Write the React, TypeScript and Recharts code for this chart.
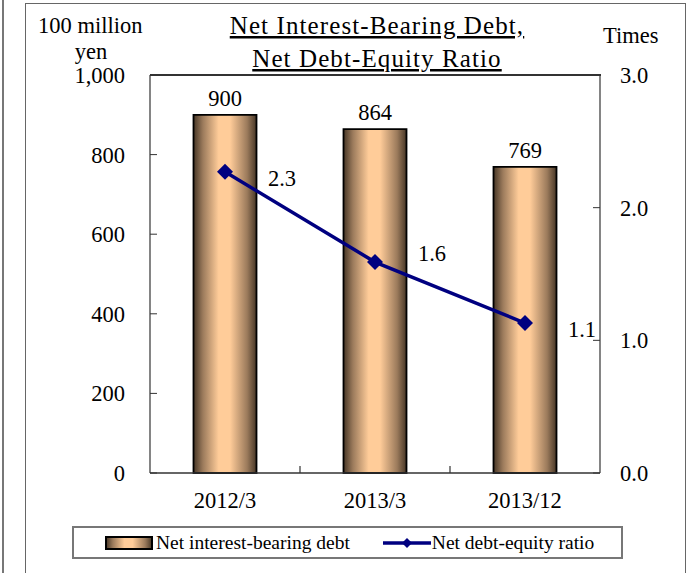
import React from 'react';
import { ComposedChart, Bar, Line, XAxis, YAxis, Legend, LabelList } from 'recharts';

const periods = ['2012/3', '2013/3', '2013/12'];
const netDebt = [900, 864, 769];
const deRatio = [2.27, 1.59, 1.13];
const leftTicks = [0, 200, 400, 600, 800, 1000];
const rightTicks = [0, 1, 2, 3];

const data = periods.map((period, i) => ({ period, debt: netDebt[i], ratio: deRatio[i] }));

const FONT = '"Liberation Serif", "Times New Roman", serif';
const NAVY = '#000080';
const AXIS = '#333';

const Diamond = ({ cx, cy, r = 8 }: any) => (
  <polygon points={`${cx},${cy - r} ${cx + r},${cy} ${cx},${cy + r} ${cx - r},${cy}`} fill={NAVY} />
);

const XTick = (props: any) => {
  const { x, y, payload, index } = props;
  const off = payload.offset ?? 0;
  return (
    <g>
      <text x={x} y={y + 35} textAnchor="middle" fontFamily={FONT} fontSize={22.5} fill="#000">
        {payload.value}
      </text>
      {index < periods.length - 1 && (
        <line x1={x + off} x2={x + off} y1={y} y2={y - 7} stroke={AXIS} strokeWidth={1.2} />
      )}
    </g>
  );
};

// line labels sit to the right of each point
const ratioLabelDy = [6, -9, 6];
const RatioLabel = (props: any) => {
  const { x, y, value, index } = props;
  return (
    <text x={x + 57} y={y + ratioLabelDy[index] + 8} textAnchor="middle" fontFamily={FONT} fontSize={22.5} fill="#000">
      {Number(value).toFixed(1)}
    </text>
  );
};

const LegendBox = () => (
  <div
    style={{
      boxSizing: 'border-box',
      height: 33,
      border: '2px solid #777',
      display: 'flex',
      alignItems: 'center',
      paddingLeft: 31,
      fontFamily: FONT,
      fontSize: 19.5,
      color: '#000',
      background: '#fff',
    }}
  >
    <svg width={48} height={14} style={{ display: 'block' }}>
      <rect x={1} y={1} width={46} height={12} fill="url(#barGrad)" stroke="#000" strokeWidth={2} />
    </svg>
    <span style={{ marginLeft: 3 }}>Net interest-bearing debt</span>
    <svg width={48} height={16} style={{ display: 'block', marginLeft: 33 }}>
      <line x1={0} x2={48} y1={8} y2={8} stroke={NAVY} strokeWidth={3.5} />
      <Diamond cx={24} cy={8} r={5} />
    </svg>
    <span style={{ marginLeft: 1 }}>Net debt-equity ratio</span>
  </div>
);

export default function App() {
  return (
    <div style={{ position: 'absolute', left: 0, top: 0, width: 690, height: 573, background: '#fff', overflow: 'hidden' }}>
      <div style={{ position: 'absolute', left: 2, top: 0, width: 1.5, height: 573, background: '#777' }} />
      <div
        style={{
          position: 'absolute',
          left: 25,
          top: 3,
          width: 659,
          height: 580,
          borderTop: '1.5px solid #666',
          borderLeft: '1.5px solid #666',
          borderRight: '1.5px solid #666',
        }}
      />
      {/* titles and unit captions, drawn under the chart */}
      <svg width={690} height={100} style={{ position: 'absolute', left: 0, top: 0 }}>
        <g fontFamily={FONT} fill="#000">
          <text x={38} y={33} fontSize={22.5}>100 million</text>
          <text x={91} y={59} fontSize={22.5} textAnchor="middle">yen</text>
          <text x={603} y={43} fontSize={22.5}>Times</text>
          <text x={377} y={34} fontSize={25} letterSpacing={1.1} textAnchor="middle" textDecoration="underline">
            Net Interest-Bearing Debt,
          </text>
          <text x={377} y={67} fontSize={25} letterSpacing={1.1} textAnchor="middle" textDecoration="underline">
            Net Debt-Equity Ratio
          </text>
        </g>
      </svg>
      {/* plot frame top edge */}
      <div style={{ position: 'absolute', left: 150, top: 74, width: 451, height: 1.5, background: AXIS }} />
      <ComposedChart
        width={690}
        height={573}
        data={data}
        margin={{ top: 74, right: 30, bottom: 14, left: 90 }}
        barCategoryGap="29%"
        style={{ position: 'absolute', left: 0, top: 0 }}
      >
        <defs>
          <linearGradient id="barGrad" x1="0" y1="0" x2="1" y2="0">
            <stop offset="0%" stopColor="#463626" />
            <stop offset="15%" stopColor="#9c7b5c" />
            <stop offset="40%" stopColor="#ffcc99" />
            <stop offset="58%" stopColor="#ffcc99" />
            <stop offset="85%" stopColor="#9c7b5c" />
            <stop offset="100%" stopColor="#463626" />
          </linearGradient>
        </defs>
        <XAxis
          dataKey="period"
          height={53}
          tickSize={0}
          tickMargin={0}
          tick={<XTick />}
          axisLine={{ stroke: AXIS, strokeWidth: 1.5 }}
          interval={0}
        />
        <XAxis
          xAxisId="top"
          dataKey="period"
          orientation="top"
          height={1}
          tick={false}
          tickLine={false}
          axisLine={{ stroke: AXIS, strokeWidth: 1.5 }}
        />
        <YAxis
          yAxisId="left"
          width={60}
          domain={[0, 1000]}
          ticks={leftTicks}
          interval={0}
          tickSize={-7}
          tickMargin={32}
          tickFormatter={(v: number) => v.toLocaleString('en-US')}
          tick={{ fill: '#000', fontSize: 22.5, fontFamily: FONT }}
          tickLine={{ stroke: AXIS }}
          axisLine={{ stroke: AXIS, strokeWidth: 1.2 }}
        />
        <YAxis
          yAxisId="right"
          orientation="right"
          width={60}
          domain={[0, 3]}
          ticks={rightTicks}
          interval={0}
          tickSize={-7}
          tickMargin={27}
          tickFormatter={(v: number) => v.toFixed(1)}
          tick={{ fill: '#000', fontSize: 22.5, fontFamily: FONT }}
          tickLine={{ stroke: AXIS }}
          axisLine={{ stroke: AXIS, strokeWidth: 1.2 }}
        />
        <Legend
          verticalAlign="bottom"
          content={<LegendBox />}
          wrapperStyle={{ left: 72, width: 551, bottom: 14 }}
        />
        <Bar yAxisId="left" dataKey="debt" name="Net interest-bearing debt" fill="url(#barGrad)" stroke="#000" strokeWidth={1.8} isAnimationActive={false}>
          <LabelList dataKey="debt" position="top" offset={9} fill="#000" fontSize={22.5} fontFamily={FONT} />
        </Bar>
        <Line
          yAxisId="right"
          dataKey="ratio"
          name="Net debt-equity ratio"
          stroke={NAVY}
          strokeWidth={3.5}
          dot={(p: any) => <Diamond key={p.index} cx={p.cx} cy={p.cy} />}
          activeDot={false}
          isAnimationActive={false}
        >
          <LabelList dataKey="ratio" content={<RatioLabel />} />
        </Line>
      </ComposedChart>
    </div>
  );
}
